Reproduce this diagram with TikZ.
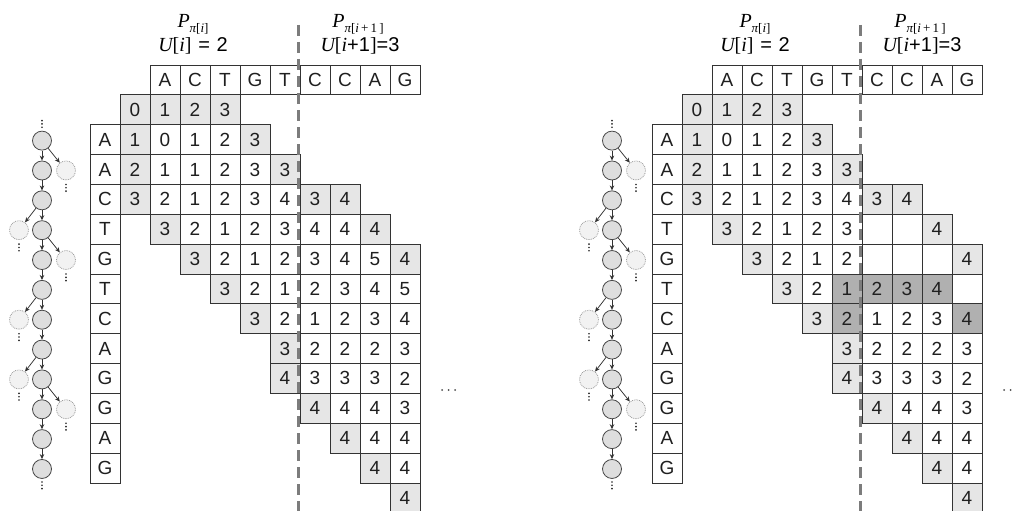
\documentclass[tikz,border=0pt]{standalone}
\usepackage{fontspec}
\setmainfont{Liberation Sans}
\newfontfamily\lblserif{Liberation Serif}
\usetikzlibrary{arrows.meta}
\definecolor{sh}{HTML}{E6E6E6}
\definecolor{dk}{HTML}{B0B0B0}
\definecolor{gridline}{HTML}{333333}
\definecolor{nodefill}{HTML}{DEDEDE}
\definecolor{sidefill}{HTML}{F2F2F2}
\definecolor{dashgray}{HTML}{7C7C7C}

\newcommand\cellrow[4]{%
  \foreach \jj/\val/\col in {#4}{%
    \node[cellbox,fill=\col] (#2-#3-\jj) at ({#1+135+30*\jj},{65+29.85*(#3+1.5)}) {\val};}}

\newcommand\vdotsat[2]{%
  \fill[black!85] ({#1},{#2}) circle (0.95) ({#1},{#2+3.3}) circle (0.95) ({#1},{#2+6.6}) circle (0.95);}

\newcommand\gridframe[2]{%
  \foreach \jj/\txt in {1/A,2/C,3/T,4/G,5/T,6/C,7/C,8/A,9/G}
    \node[cellbox,fill=white] (#2-hd-\jj) at ({#1+135+30*\jj},79.9) {\txt};
  \foreach \rr/\txt in {1/A,2/A,3/C,4/T,5/G,6/T,7/C,8/A,9/G,10/G,11/A,12/G}
    \node[cellbox,fill=white] (#2-lb-\rr) at ({#1+105},{65+29.85*(\rr+1.5)}) {\txt};
  \cellrow{#1}{#2}{0}{0/0/sh,1/1/sh,2/2/sh,3/3/sh}
  \cellrow{#1}{#2}{1}{0/1/sh,1/0/white,2/1/white,3/2/white,4/3/sh}
  \cellrow{#1}{#2}{2}{0/2/sh,1/1/white,2/1/white,3/2/white,4/3/white,5/3/sh}
  \cellrow{#1}{#2}{3}{0/3/sh,1/2/white,2/1/white,3/2/white,4/3/white,5/4/white,6/3/sh,7/4/sh}
  \cellrow{#1}{#2}{8}{5/3/sh,6/2/white,7/2/white,8/2/white,9/3/white}
  \cellrow{#1}{#2}{9}{5/4/sh,6/3/white,7/3/white,8/3/white,9/2/white}
  \cellrow{#1}{#2}{10}{6/4/sh,7/4/white,8/4/white,9/3/white}
  \cellrow{#1}{#2}{11}{7/4/sh,8/4/white,9/4/white}
  \cellrow{#1}{#2}{12}{8/4/sh,9/4/white}
  \cellrow{#1}{#2}{13}{9/4/sh}
}

\newcommand\drawtree[2]{%
  \foreach \rr in {1,...,12}
    \node[treenode] (#2-t\rr) at ({#1},{65+29.85*(\rr+1.5)+1}) {};
  \foreach \rr in {1,...,11}{%
    \pgfmathtruncatemacro\nn{\rr+1}%
    \draw[treearrow] (#2-t\rr) -- (#2-t\nn);}
  \foreach \rr/\pp/\dx in {2/1/24,4/3/-23,5/4/24,7/6/-23,9/8/-23,10/9/24}{%
    \node[sidenode] (#2-s\rr) at ({#1+\dx},{65+29.85*(\rr+1.5)+1}) {};
    \draw[treearrow] (#2-t\pp) -- (#2-s\rr);
    \vdotsat{#1+\dx}{65+29.85*(\rr+1.5)+15}}
  \vdotsat{#1}{65+29.85*2.5+1-20}
  \vdotsat{#1}{65+29.85*13.5+1+13}
}

\newcommand\subfont{\fontsize{13}{13}\selectfont\lblserif}
\newcommand\headlabels[1]{%
  \node[lbl] (hdP1-#1) at ({#1+193},28) {{\lblserif\itshape P}\raisebox{-4.5pt}{\subfont{\itshape π}[{\itshape i}]}};
  \node[lbl] (hdU1-#1) at ({#1+193},52) {{\lblserif{\itshape U}[{\itshape i}]}\,\,=\,\,2};
  \node[lbl] (hdP2-#1) at ({#1+358},28) {{\lblserif\itshape P}\raisebox{-4.5pt}{\subfont{\itshape π}[{\itshape i}\,+\,1\,]}};
  \node[lbl] (hdU2-#1) at ({#1+360},52) {{\lblserif{\itshape U}[{\itshape i}}+1{\lblserif]}=3};
}

\begin{document}
\begin{tikzpicture}[x=1pt,y=-1pt,
  cellbox/.style={draw=gridline,line width=0.75pt,minimum width=30pt,minimum height=29.85pt,
    inner sep=0pt,font=\fontsize{19}{19}\selectfont,text=black!88},
  treenode/.style={circle,draw=black!72,fill=nodefill,line width=0.8pt,minimum size=19pt,inner sep=0pt},
  sidenode/.style={circle,draw=black!40,densely dotted,fill=sidefill,line width=0.8pt,minimum size=19pt,inner sep=0pt},
  treearrow/.style={draw=black!80,line width=0.75pt,-{Stealth[length=5pt,width=4.5pt]}},
  divider/.style={draw=dashgray,line width=2.4pt,dash pattern=on 11pt off 6pt},
  lbl/.style={anchor=base,inner sep=0pt,font=\fontsize{20}{20}\selectfont},
  ellip/.style={fill=black!70}]
\useasboundingbox (0,0) rectangle (1014,511);
\fill[white] (0,0) rectangle (1014,511);

% ---------------- left panel ----------------
\gridframe{0}{L}
\cellrow{0}{L}{4}{1/3/sh,2/2/white,3/1/white,4/2/white,5/3/white,6/4/white,7/4/white,8/4/sh}
\cellrow{0}{L}{5}{2/3/sh,3/2/white,4/1/white,5/2/white,6/3/white,7/4/white,8/5/white,9/4/sh}
\cellrow{0}{L}{6}{3/3/sh,4/2/white,5/1/white,6/2/white,7/3/white,8/4/white,9/5/white}
\cellrow{0}{L}{7}{4/3/sh,5/2/white,6/1/white,7/2/white,8/3/white,9/4/white}
\coordinate (Ldtop) at (298.5,25);
\coordinate (Ldbot) at (298.5,511);
\draw[divider] (Ldtop) -- (Ldbot);
\drawtree{42}{L}
\headlabels{0}
\fill[ellip] (442,390) circle (1) (448.5,390) circle (1) (455,390) circle (1);

% ---------------- right panel ----------------
\gridframe{562}{R}
\cellrow{562}{R}{4}{1/3/sh,2/2/white,3/1/white,4/2/white,5/3/white,6/{}/white,7/{}/white,8/4/sh}
\cellrow{562}{R}{5}{2/3/sh,3/2/white,4/1/white,5/2/white,6/{}/white,7/{}/white,8/{}/white,9/4/sh}
\cellrow{562}{R}{6}{3/3/sh,4/2/white,5/1/dk,6/2/dk,7/3/dk,8/4/dk,9/{}/white}
\cellrow{562}{R}{7}{4/3/sh,5/2/dk,6/1/white,7/2/white,8/3/white,9/4/dk}
\coordinate (Rdtop) at (860.5,25);
\coordinate (Rdbot) at (860.5,511);
\draw[divider] (Rdtop) -- (Rdbot);
\drawtree{612}{R}
\headlabels{562}
\fill[ellip] (1004,390) circle (1) (1010.5,390) circle (1) (1017,390) circle (1);
\end{tikzpicture}
\end{document}
